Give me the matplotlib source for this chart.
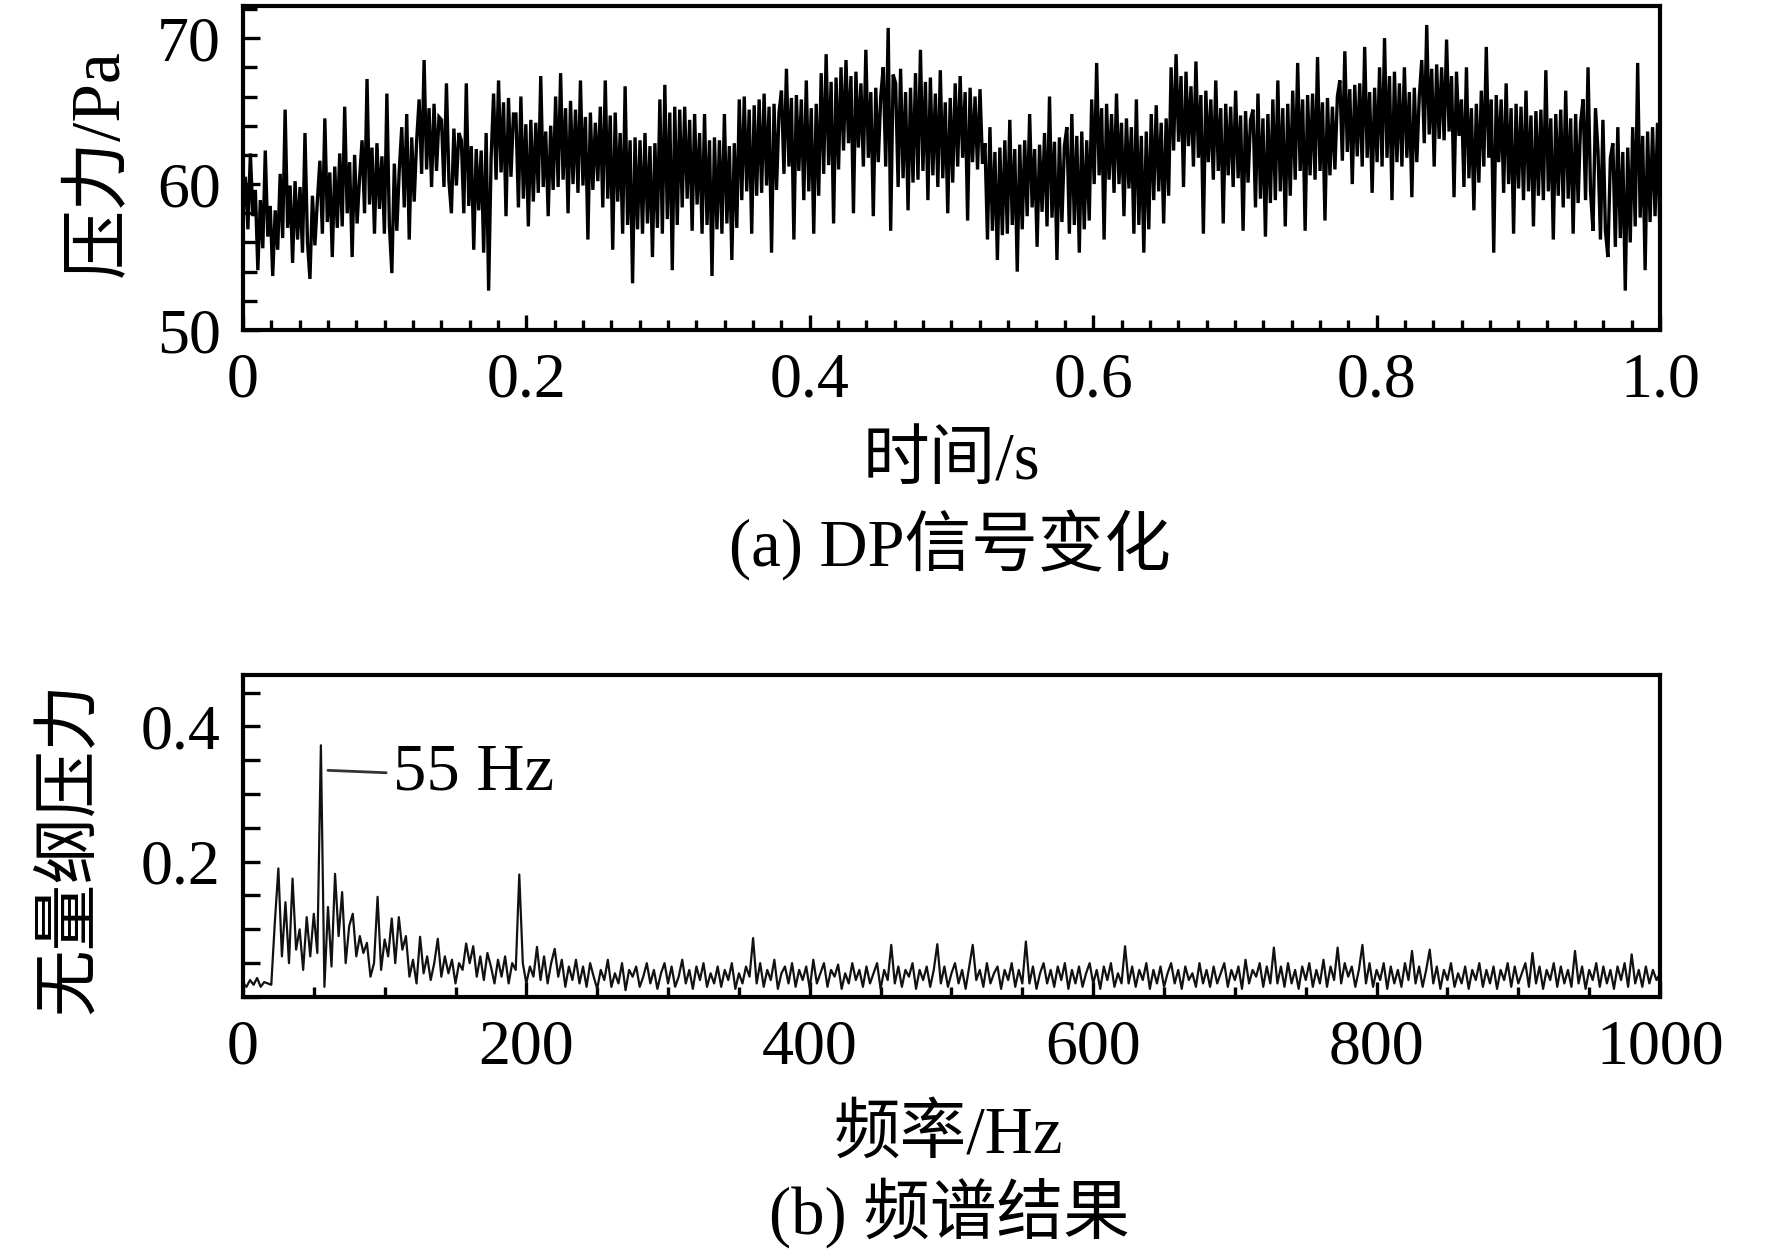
import numpy as np
import matplotlib
matplotlib.use("Agg")
import matplotlib.pyplot as plt
from matplotlib.ticker import FixedLocator, MultipleLocator, FixedFormatter

plt.rcParams['font.family'] = ['Liberation Serif', 'Noto Sans CJK SC', 'DejaVu Sans']

# ---------------- data ----------------
pressure = [
    58.0, 60.5, 56.9, 62.1, 57.8, 59.6, 54.1,
    58.9, 55.6, 62.3, 56.4, 58.5, 53.7, 58.2, 55.5,
    60.7, 56.3, 65.1, 57.0, 59.9, 54.6, 60.2, 56.2,
    59.8, 55.3, 63.5, 56.0, 53.5, 59.2, 55.8, 58.9,
    61.6, 56.6, 64.5, 57.4, 60.8, 55.0, 61.2, 57.0,
    62.1, 57.1, 65.3, 58.0, 61.5, 55.0, 62.0, 57.3, 60.4,
    63.0, 58.0, 67.2, 58.6, 62.5, 56.6, 62.8, 58.3,
    61.9, 56.6, 66.2, 57.2, 53.9, 61.4, 56.8, 61.0,
    63.9, 58.4, 64.8, 56.2, 63.2, 58.8, 63.0,
    65.8, 60.7, 68.5, 61.0, 65.2, 59.8, 65.5, 60.9, 64.6,
    64.4, 59.8, 66.9, 60.2, 58.0, 63.8, 59.9, 63.5,
    63.0, 58.0, 66.9, 58.5, 62.6, 55.5, 62.4, 58.2,
    62.3, 55.3, 63.5, 52.7, 61.8,
    66.2, 60.3, 67.1, 60.8, 65.6, 57.8, 65.9, 60.5, 64.8,
    64.8, 58.4, 66.0, 59.0, 64.1, 57.1, 64.4, 58.8,
    64.2, 59.4, 67.4, 59.8, 63.6, 57.8, 64.0, 59.6,
    66.0, 59.8, 67.6, 60.3, 65.2, 58.0, 65.7, 60.0,
    65.1, 59.4, 67.1, 59.9, 64.6, 56.2, 64.9, 59.6, 64.2, 60.2,
    65.3, 58.4, 67.1, 59.0, 64.7, 55.5, 64.9, 58.8,
    63.5, 56.6, 66.7, 57.2, 63.0, 53.2, 63.2, 56.9,
    63.0, 56.6, 63.5, 57.3, 62.6, 55.0, 62.8, 57.0,
    65.8, 56.6, 66.8, 57.6, 64.9, 54.1, 65.3, 57.2,
    65.1, 58.4, 65.3, 59.0, 64.4, 56.8, 64.8, 58.6,
    63.5, 56.6, 64.8, 57.2, 63.0, 53.7, 63.2, 56.9,
    63.0, 56.6, 64.8, 57.3, 62.6, 54.8, 62.8, 57.0,
    65.8, 58.9, 66.0, 59.5, 65.1, 56.6, 65.4, 59.2,
    65.8, 59.4, 66.2, 59.9, 65.3, 55.3, 65.5, 59.6, 64.9,
    66.4, 60.7, 67.9, 61.2, 65.9, 56.2, 66.1, 60.9,
    65.8, 58.9, 67.1, 59.5, 65.2, 56.6, 65.5, 59.2,
    67.6, 60.7, 68.9, 61.3, 67.0, 57.3, 67.3, 61.0,
    68.0, 62.3, 68.5, 62.8, 67.4, 58.0, 67.7, 62.5,
    66.9, 61.2, 69.2, 61.8, 66.3, 57.8, 66.6, 61.5, 66.0,
    68.0, 61.2, 70.7, 56.8, 67.5,
    66.9, 59.8, 67.9, 60.4, 66.3, 58.2, 66.6, 60.1,
    67.6, 60.3, 69.2, 60.9, 67.0, 58.9, 67.3, 60.6,
    66.2, 59.8, 67.8, 60.4, 65.6, 58.0, 65.9, 60.1,
    66.9, 61.2, 67.4, 61.8, 66.3, 57.5, 66.6, 61.5, 66.0, 61.0, 66.5, 61.4,
    62.8, 56.2, 63.9, 56.8, 62.2, 54.8, 62.5, 56.5,
    63.0, 56.6, 64.4, 57.2, 62.4, 54.0, 62.7, 56.9,
    63.0, 57.8, 64.8, 58.4, 62.4, 55.7, 62.7, 58.1,
    63.5, 57.1, 66.0, 57.7, 62.9, 54.8, 63.2, 57.4, 62.6,
    63.9, 56.6, 64.8, 57.2, 63.3, 55.3, 63.6, 56.9, 63.0, 57.5,
    65.8, 60.0, 68.3, 60.6, 65.2, 56.2, 65.5, 60.3,
    64.8, 59.4, 66.2, 60.0, 64.2, 57.8, 64.5, 59.7,
    63.9, 56.6, 65.8, 57.2, 63.3, 55.3, 63.6, 56.9,
    64.8, 58.9, 65.4, 59.5, 64.2, 57.3, 64.5, 59.2,
    68.0, 62.3, 68.9, 62.9, 67.4, 59.8, 67.7, 62.6,
    66.7, 61.2, 68.4, 61.8, 66.1, 56.6, 66.4, 61.5,
    65.8, 60.3, 67.1, 60.9, 65.2, 57.3, 65.5, 60.6,
    65.3, 59.8, 66.4, 60.4, 64.7, 56.8, 65.0, 60.1, 64.4,
    65.1, 58.4, 66.2, 59.0, 64.5, 56.4, 64.8, 58.7,
    65.8, 58.9, 67.1, 59.5, 65.2, 57.1, 65.5, 59.2,
    66.4, 60.3, 68.3, 60.9, 65.8, 56.8, 66.1, 60.6,
    66.2, 60.3, 68.7, 60.9, 65.6, 57.5, 65.9, 60.6, 65.3, 61.0, 66.0,
    67.1, 61.6, 69.1, 62.2, 66.5, 60.0, 66.8, 61.9,
    66.9, 61.2, 69.4, 61.8, 66.3, 59.4, 66.6, 61.5,
    68.0, 61.2, 70.0, 61.8, 67.4, 58.9, 67.7, 61.5,
    66.9, 61.2, 68.0, 61.8, 66.3, 59.1, 66.6, 61.5, 66.0,
    68.5, 62.8, 70.9, 63.4, 67.9, 61.2, 68.2, 63.1,
    68.0, 63.0, 69.9, 63.6, 67.4, 59.1, 67.7, 63.3,
    65.8, 59.8, 68.0, 60.4, 65.2, 58.2, 65.5, 60.1,
    66.4, 61.2, 69.4, 61.8, 65.8, 55.3, 66.1, 61.5,
    65.8, 59.4, 66.9, 60.0, 65.2, 56.6, 65.5, 59.7,
    65.3, 58.9, 66.4, 59.5, 64.7, 57.1, 65.0, 59.2,
    65.1, 58.9, 67.8, 59.5, 64.5, 56.2, 64.8, 59.2,
    65.1, 58.4, 66.4, 59.0, 64.5, 56.6, 64.8, 58.7, 64.2,
    65.8, 58.9, 68.0, 59.5, 56.8, 65.2,
    62.3, 56.2, 64.4, 56.8, 55.0, 61.8,
    62.8, 55.7, 63.9, 56.3, 62.2, 52.7, 62.5, 56.0,
    63.9, 57.1, 68.3, 57.7, 63.3, 54.1, 63.6, 57.4,
    63.9, 57.8, 64.2, 56.2,
]
time = np.linspace(0.0, 1.0, len(pressure))

spectrum = [
    0.02, 0.015, 0.025, 0.018, 0.028, 0.015, 0.022, 0.02, 0.018,
    0.11, 0.19, 0.06, 0.14, 0.05, 0.175, 0.07, 0.10, 0.04, 0.118,
    0.06, 0.123, 0.065, 0.372, 0.015, 0.133, 0.045, 0.182, 0.09, 0.155,
    0.05, 0.105, 0.123, 0.06, 0.09, 0.065, 0.08, 0.03, 0.05, 0.148,
    0.04, 0.085, 0.06, 0.116, 0.05, 0.118, 0.07, 0.09, 0.03, 0.055,
    0.02, 0.089, 0.035, 0.06, 0.025, 0.05, 0.086, 0.03, 0.06, 0.035,
    0.055, 0.02, 0.05, 0.04, 0.079, 0.05, 0.075, 0.03, 0.06, 0.025,
    0.065, 0.045, 0.02, 0.055, 0.03, 0.06, 0.02, 0.05, 0.04, 0.181,
    0.05, 0.02, 0.045, 0.03, 0.074, 0.025, 0.06, 0.02, 0.05, 0.071,
    0.03, 0.055, 0.015, 0.045, 0.025, 0.055,
    0.02, 0.045, 0.015, 0.05, 0.03, 0.012, 0.04, 0.025, 0.055, 0.015, 0.035, 0.02, 0.05, 0.01, 0.04, 0.03, 0.045, 0.015, 0.03, 0.05,
    0.02, 0.04, 0.012, 0.035, 0.05, 0.02, 0.045, 0.015, 0.03, 0.055, 0.02, 0.04, 0.012, 0.045, 0.025, 0.05, 0.015, 0.035, 0.02, 0.045,
    0.015, 0.04, 0.025, 0.05, 0.012, 0.035, 0.02, 0.045, 0.03, 0.087, 0.02, 0.05, 0.015, 0.04, 0.025, 0.055, 0.012, 0.035, 0.045, 0.02,
    0.05, 0.015, 0.04, 0.025, 0.045, 0.012, 0.055, 0.02, 0.035, 0.05, 0.015, 0.04, 0.03, 0.048, 0.012, 0.035, 0.02, 0.05, 0.025, 0.04,
    0.015, 0.045, 0.02, 0.035, 0.05, 0.012, 0.04, 0.025, 0.077, 0.02, 0.045, 0.015, 0.04, 0.03, 0.05, 0.012, 0.04, 0.025, 0.045, 0.015,
    0.04, 0.078, 0.02, 0.045, 0.015, 0.035, 0.05, 0.02, 0.04, 0.012, 0.045, 0.077, 0.025, 0.04, 0.015, 0.05, 0.02, 0.035, 0.045, 0.012,
    0.04, 0.025, 0.05, 0.015, 0.04, 0.02, 0.082, 0.02, 0.045, 0.012, 0.035, 0.05, 0.02, 0.04, 0.015, 0.045, 0.025, 0.05, 0.012, 0.04,
    0.02, 0.045, 0.015, 0.035, 0.05, 0.02, 0.04, 0.012, 0.045, 0.025, 0.05, 0.015, 0.035, 0.02, 0.075, 0.02, 0.045, 0.015, 0.04, 0.025,
    0.05, 0.012, 0.04, 0.02, 0.045, 0.015, 0.035, 0.05, 0.02, 0.04, 0.012, 0.045, 0.025, 0.035, 0.015, 0.05, 0.02, 0.04, 0.015, 0.045,
    0.02, 0.035, 0.05, 0.015, 0.04, 0.025, 0.045, 0.012, 0.055, 0.02, 0.04, 0.03, 0.05, 0.015, 0.045, 0.02, 0.073, 0.02, 0.045, 0.015,
    0.05, 0.02, 0.04, 0.012, 0.045, 0.025, 0.05, 0.015, 0.04, 0.02, 0.055, 0.015, 0.045, 0.025, 0.073, 0.02, 0.05, 0.03, 0.045, 0.015,
    0.04, 0.077, 0.02, 0.05, 0.015, 0.04, 0.025, 0.05, 0.012, 0.045, 0.02, 0.04, 0.015, 0.05, 0.025, 0.068, 0.02, 0.045, 0.015, 0.04,
    0.07, 0.02, 0.045, 0.012, 0.04, 0.025, 0.05, 0.015, 0.035, 0.02, 0.045, 0.012, 0.04, 0.025, 0.05, 0.015, 0.04, 0.02, 0.045, 0.012,
    0.04, 0.025, 0.05, 0.015, 0.045, 0.02, 0.035, 0.05, 0.015, 0.065, 0.02, 0.045, 0.012, 0.04, 0.025, 0.05, 0.015, 0.045, 0.02, 0.04,
    0.015, 0.068, 0.02, 0.045, 0.012, 0.04, 0.025, 0.05, 0.015, 0.045, 0.02, 0.04, 0.012, 0.045, 0.025, 0.05, 0.015, 0.063, 0.02, 0.04,
    0.015, 0.045, 0.02, 0.04, 0.025, 0.035,
]
frequency = np.linspace(0.0, 1000.0, len(spectrum))

time_ticks = [0.0, 0.2, 0.4, 0.6, 0.8, 1.0]
time_ticklabels = ['0', '0.2', '0.4', '0.6', '0.8', '1.0']
pressure_ticks = [50, 60, 70]
freq_ticks = [0, 200, 400, 600, 800, 1000]
amp_ticks = [0.2, 0.4]
amp_ticklabels = ['0.2', '0.4']

TICK_FS = 46
LABEL_FS = 48

fig = plt.figure(figsize=(17.72, 12.52), dpi=100)
ax1 = fig.add_axes([0.1371, 0.7364, 0.7997, 0.2588])
ax2 = fig.add_axes([0.1371, 0.2037, 0.7997, 0.2572])

def style(ax):
    for s in ax.spines.values():
        s.set_linewidth(3.0)
    ax.tick_params(which='both', direction='in', width=2.4, labelsize=TICK_FS,
                   top=False, right=False, pad=16)

# ---- top: DP signal ----
ax1.plot(time, pressure, color='black', lw=2.4, solid_joinstyle='miter')
ax1.set_xlim(0, 1.0)
ax1.set_ylim(50, 72.2)
ax1.xaxis.set_major_locator(FixedLocator(time_ticks))
ax1.xaxis.set_major_formatter(FixedFormatter(time_ticklabels))
ax1.xaxis.set_minor_locator(MultipleLocator(0.02))
ax1.yaxis.set_major_locator(FixedLocator(pressure_ticks))
ax1.yaxis.set_minor_locator(MultipleLocator(2))
style(ax1)
ax1.tick_params(axis='x', which='major', length=11)
ax1.tick_params(axis='x', which='minor', length=7)
ax1.tick_params(axis='y', which='major', length=12)
ax1.tick_params(axis='y', which='minor', length=10)
ax1.set_xlabel('时间/s', fontsize=LABEL_FS, va='center')
ax1.xaxis.set_label_coords(0.500, -0.41)
ax1.set_ylabel('压力/Pa', fontsize=50, va='center')
ax1.yaxis.set_label_coords(-0.100, 0.515)

# ---- bottom: spectrum ----
ax2.plot(frequency, spectrum, color='#111111', lw=1.6)
ax2.set_xlim(0, 1000)
ax2.set_ylim(0, 0.476)
ax2.xaxis.set_major_locator(FixedLocator(freq_ticks))
ax2.xaxis.set_minor_locator(MultipleLocator(50))
ax2.yaxis.set_major_locator(FixedLocator(amp_ticks))
ax2.yaxis.set_major_formatter(FixedFormatter(amp_ticklabels))
ax2.yaxis.set_minor_locator(MultipleLocator(0.05))
style(ax2)
ax2.tick_params(axis='x', which='major', length=11)
ax2.tick_params(axis='x', which='minor', length=7)
ax2.tick_params(axis='y', which='both', length=12)
ax2.set_xlabel('频率/Hz', fontsize=LABEL_FS, va='center')
ax2.xaxis.set_label_coords(0.498, -0.43)
ax2.set_ylabel('无量纲压力', fontsize=LABEL_FS, va='center')
ax2.yaxis.set_label_coords(-0.122, 0.463)

ax2.annotate('55 Hz', xy=(60, 0.335), xytext=(106, 0.331),
             ha='left', va='center', fontsize=48,
             arrowprops=dict(arrowstyle='-', color='#333333', lw=2.0,
                             relpos=(0.0, 0.5), shrinkA=3, shrinkB=0))

# ---- captions ----
fig.text(0.536, 1 - 545 / 1252, '(a) DP信号变化', fontsize=LABEL_FS, ha='center', va='center')
fig.text(0.536, 1 - 1213 / 1252, '(b) 频谱结果', fontsize=LABEL_FS, ha='center', va='center')

fig.savefig('out.png', dpi=100)
